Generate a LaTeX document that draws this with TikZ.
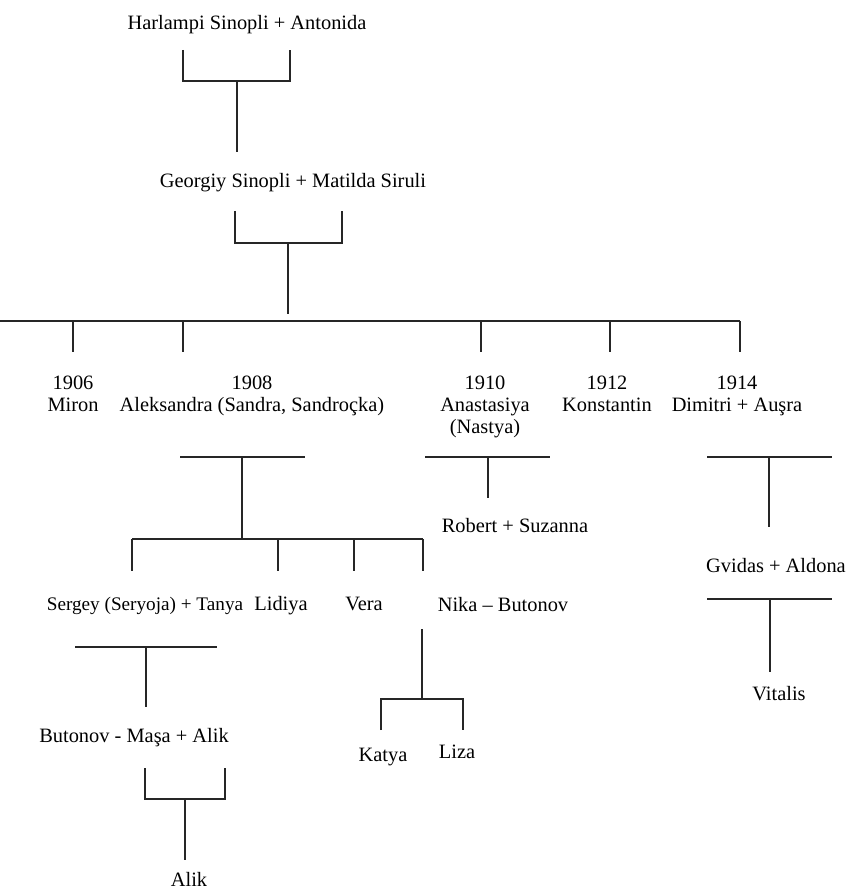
\documentclass[tikz,border=0pt]{standalone}
\usepackage{fontspec}
\setmainfont{Liberation Serif}
\newcommand{\lines}[1]{\begin{tabular}[t]{@{}c@{}}#1\end{tabular}}
\begin{document}
\begin{tikzpicture}[x=1pt,y=-1pt,
  person/.style={inner sep=0pt,outer sep=0pt,anchor=base,font=\fontsize{20.4}{22}\selectfont},
  link/.style={line width=1.2pt,draw=black!85}]
\useasboundingbox (0,0) rectangle (847,890);
% people
\node[person] (harl) at (247,30) {Harlampi Sinopli + Antonida};
\node[person] (geo) at (293,188) {Georgiy Sinopli + Matilda Siruli};
\node[person] (miron) at (73,389) {\lines{1906\\Miron}};
\node[person] (aleks) at (252,389) {\lines{1908\\Aleksandra (Sandra, Sandroçka)}};
\node[person] (anast) at (485,389) {\lines{1910\\Anastasiya\\(Nastya)}};
\node[person] (konst) at (607,389) {\lines{1912\\Konstantin}};
\node[person] (dim) at (737,389) {\lines{1914\\Dimitri + Auşra}};
\node[person] (rob) at (515,532) {Robert + Suzanna};
\node[person] (gvid) at (776,572) {Gvidas + Aldona};
\node[person] (vit) at (779,700) {Vitalis};
\node[person,font=\fontsize{19.2}{22}\selectfont] (serg) at (145,610) {Sergey (Seryoja) + Tanya};
\node[person] (lid) at (281,610) {Lidiya};
\node[person] (vera) at (364,610) {Vera};
\node[person] (nika) at (503,611) {Nika – Butonov};
\node[person] (but) at (134,742) {Butonov - Maşa + Alik};
\node[person] (katya) at (383,761) {Katya};
\node[person] (liza) at (457,758) {Liza};
\node[person] (alik) at (189,886) {Alik};
% connectors
\draw[link] (183,50) -- (183,81) -- (290,81) -- (290,50);
\draw[link] (237,81) -- (237,152);
\draw[link] (235,211) -- (235,243) -- (342,243) -- (342,211);
\draw[link] (288,243) -- (288,314);
\draw[link] (0,321) -- (740,321);
\foreach \x in {73,183,481,610,740} \draw[link] (\x,321) -- (\x,352);
\draw[link] (180,457) -- (305,457);
\draw[link] (242,457) -- (242,539);
\draw[link] (132,539) -- (423,539);
\foreach \x in {132,278,354,423} \draw[link] (\x,539) -- (\x,571);
\draw[link] (425,457) -- (550,457);
\draw[link] (488,457) -- (488,498);
\draw[link] (707,457) -- (832,457);
\draw[link] (769,457) -- (769,527);
\draw[link] (707,599) -- (832,599);
\draw[link] (770,599) -- (770,672);
\draw[link] (75,647) -- (217,647);
\draw[link] (146,647) -- (146,707);
\draw[link] (145,768) -- (145,799) -- (225,799) -- (225,768);
\draw[link] (185,799) -- (185,860);
\draw[link] (422,629) -- (422,699);
\draw[link] (381,730) -- (381,699) -- (463,699) -- (463,730);
\end{tikzpicture}
\end{document}
